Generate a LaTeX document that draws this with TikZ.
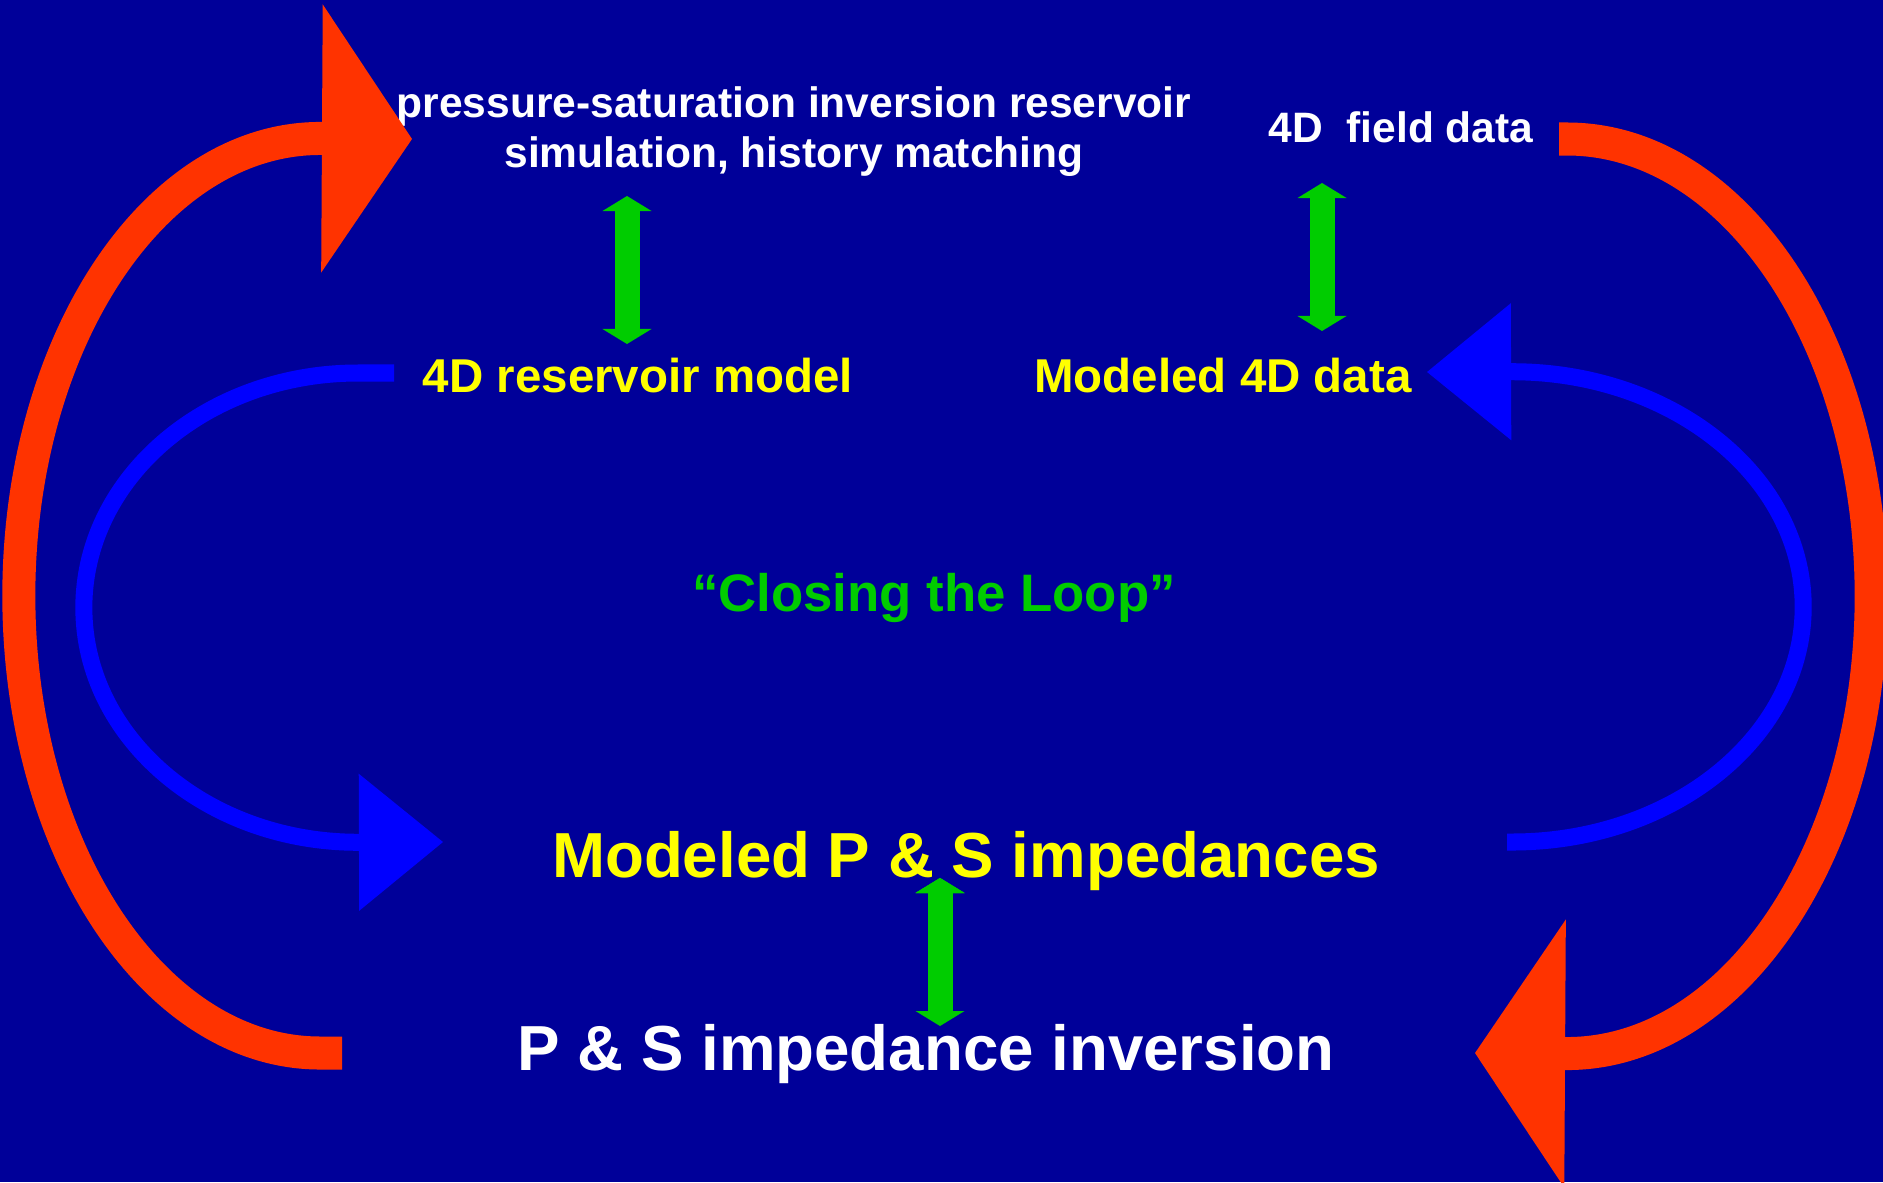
\documentclass[tikz,border=0pt]{standalone}
\usepackage{fontspec}
\setmainfont{Liberation Sans}
\usetikzlibrary{arrows.meta}
\usepackage{xcolor}
\definecolor{slideblue}{RGB}{0,0,153}
\definecolor{loopred}{RGB}{255,51,0}
\definecolor{loopblue}{RGB}{0,0,255}
\definecolor{linkgreen}{RGB}{0,204,0}
\definecolor{labelyellow}{RGB}{255,255,0}

\begin{document}
\begin{tikzpicture}[x=0.01cm, y=0.01cm]
				\tikzstyle{toplabel} = [text=white, inner sep=0pt, align=center, font=\fontsize{12.1}{14.5}\selectfont\bfseries]
				\tikzstyle{midlabel} = [text=labelyellow, inner sep=0pt, font=\fontsize{13.5}{16}\selectfont\bfseries]
				\tikzstyle{biglabel} = [inner sep=0pt, font=\fontsize{18.1}{21}\selectfont\bfseries]
				\tikzstyle{loopnote} = [text=linkgreen, inner sep=0pt, font=\fontsize{15}{18}\selectfont\bfseries]
				\tikzstyle{redloop} = [draw, color=loopred, line width=0.33cm, -{Triangle[length=0.9cm, width=2.68cm, line width=0pt]}]
				\tikzstyle{blueloop} = [draw, color=loopblue, line width=0.17cm, -{Triangle[length=0.84cm, width=1.37cm, line width=0pt]}]
				\tikzstyle{link} = [draw, color=linkgreen, line width=0.25cm, {Triangle[length=0.15cm, width=0.49cm, line width=0pt]}-{Triangle[length=0.15cm, width=0.49cm, line width=0pt]}]
				
				\fill[slideblue] (0,0) rectangle (1883,-1182);
				\useasboundingbox (0,0) rectangle (1883,-1182);
				
				\node[toplabel, anchor=base]				at (794,-168)	(sim)		{pressure-saturation inversion reservoir\\simulation, history matching};
				\node[toplabel, anchor=base]				at (1401,-143)	(field)		{4D~~field data};
				\node[midlabel, anchor=base]				at (638,-392)	(resmod)	{4D reservoir model};
				\node[midlabel, anchor=base]				at (1223,-392)	(moddata)	{Modeled 4D data};
				\node[loopnote, anchor=base]				at (934,-611)	(loop)		{“Closing the Loop”};
				\node[biglabel, text=labelyellow, anchor=base]	at (966,-877)	(modimp)	{Modeled P \& S impedances};
				\node[biglabel, text=white, anchor=base]		at (926,-1070)	(impinv)	{P \& S impedance inversion};
				
				% loop ends
				\coordinate (invL)		at (342,-1053);
				\coordinate (simL)		at (412,-139);
				\coordinate (fieldR)	at (1559,-139);
				\coordinate (invR)		at (1475,-1053);
				\coordinate (resL)		at (394,-373);
				\coordinate (impL)		at (443,-842);
				\coordinate (impR)		at (1507,-842);
				\coordinate (dataR)		at (1427,-372);
				
				% link ends
				\coordinate (simLink)	at (627,-196);
				\coordinate (resLink)	at (627,-344);
				\coordinate (fieldLink)	at (1322,-183);
				\coordinate (dataLink)	at (1322,-331);
				\coordinate (modLink)	at (940,-878);
				\coordinate (invLink)	at (940,-1026);
				
				\draw[redloop] (invL) -- ++(-22,0) arc[start angle=270, end angle=90, x radius=3.01cm, y radius=4.57cm] -- (simL);
				\draw[redloop] (fieldR) -- ++(8,0) arc[start angle=90, end angle=-90, x radius=3.04cm, y radius=4.57cm] -- (invR);
				\draw[blueloop] (resL) -- ++(-36,0) arc[start angle=90, end angle=270, x radius=2.74cm, y radius=2.345cm] -- (impL);
				\draw[blueloop] (impR) -- ++(5,0) arc[start angle=-90, end angle=90, x radius=2.91cm, y radius=2.35cm] -- (dataR);
				
				\path[link]
				(simLink)	edge	(resLink)
				(fieldLink)	edge	(dataLink)
				(modLink)	edge	(invLink);
			\end{tikzpicture}
\end{document}
